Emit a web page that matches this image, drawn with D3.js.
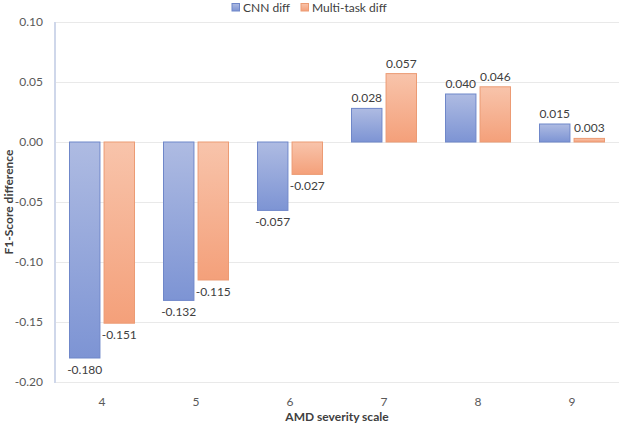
<!DOCTYPE html>
<html><head><meta charset="utf-8">
<script src="https://cdn.jsdelivr.net/npm/d3@7/dist/d3.min.js"></script>
<style>
html,body{margin:0;padding:0;background:#fff;}
text{font-family:Lato,"Open Sans",sans-serif;}
</style></head>
<body><svg id="chart" width="619" height="424"></svg>
<script>
const categories = ["4","5","6","7","8","9"];
const seriesNames = ["CNN diff","Multi-task diff"];
const cnnDiff = [-0.180,-0.132,-0.057,0.028,0.040,0.015];
const multiDiff = [-0.151,-0.115,-0.027,0.057,0.046,0.003];
const yTicks = [0.10,0.05,0.00,-0.05,-0.10,-0.15,-0.20];

const svg = d3.select("#chart");
const W = 619, H = 424;
const m = {left:55, right:0, top:22, bottom:42};
const x0 = d3.scaleBand().domain(categories).range([m.left, W-m.right]).paddingInner(0).paddingOuter(0);
const x1 = d3.scaleBand().domain(seriesNames).range([14, 94-14]).paddingInner(0.09);
const y = d3.scaleLinear().domain([-0.20,0.10]).range([H-m.bottom, m.top]);
const fmt = p => (v => d3.format(p)(v).replace("\u2212","-"));
const FS = 12;

const defs = svg.append("defs");
const grads = [
  {id:"gBlue", top:"#aebbe2", bot:"#7d94d4"},
  {id:"gOrange", top:"#f8c4ab", bot:"#f4a07a"}
];
grads.forEach(g=>{
  const lg = defs.append("linearGradient").attr("id",g.id).attr("x1",0).attr("y1",0).attr("x2",0).attr("y2",1);
  lg.append("stop").attr("offset","0%").attr("stop-color",g.top);
  lg.append("stop").attr("offset","100%").attr("stop-color",g.bot);
});
const fills = ["url(#gBlue)","url(#gOrange)"];
const strokes = ["#6f87c9","#ec9b74"];

// gridlines
svg.append("g").selectAll("line").data(yTicks).join("line")
  .attr("x1",m.left).attr("x2",W-m.right)
  .attr("y1",d=>Math.round(y(d))+0.5).attr("y2",d=>Math.round(y(d))+0.5)
  .attr("stroke","#e9e9e9").attr("stroke-width",1);

// y axis line
svg.append("line").attr("x1",m.left).attr("x2",m.left)
  .attr("y1",y(0.10)).attr("y2",y(-0.20)+1)
  .attr("stroke","#cfd7ea").attr("stroke-width",2);

// y axis labels
const yAxis = d3.axisLeft(y).tickValues(yTicks).tickFormat(fmt(".2f")).tickSize(0).tickPadding(12);
const ya = svg.append("g").attr("transform",`translate(${m.left},0)`).call(yAxis);
ya.select(".domain").remove();
ya.selectAll("text").attr("font-size",FS).attr("fill","#595959").style("font-family","Lato,sans-serif");

// x axis labels
const xAxis = d3.axisBottom(x0).tickSize(0).tickPadding(15);
const xa = svg.append("g").attr("transform",`translate(0,${y(-0.20)})`).call(xAxis);
xa.select(".domain").remove();
xa.selectAll("text").attr("font-size",FS).attr("fill","#595959").style("font-family","Lato,sans-serif");

// bars
const rows = categories.map((c,i)=>({cat:c, vals:[cnnDiff[i], multiDiff[i]]}));
const groups = svg.append("g").selectAll("g").data(rows).join("g")
  .attr("transform",d=>`translate(${x0(d.cat)},0)`);
groups.selectAll("rect").data(d=>d.vals.map((v,k)=>({v,k}))).join("rect")
  .attr("x",d=>x1(seriesNames[d.k])+0.5)
  .attr("width",x1.bandwidth()-1)
  .attr("y",d=>Math.min(y(d.v),y(0)))
  .attr("height",d=>Math.abs(y(d.v)-y(0)))
  .attr("fill",d=>fills[d.k]).attr("stroke",d=>strokes[d.k]).attr("stroke-width",1);
groups.selectAll("text.val").data(d=>d.vals.map((v,k)=>({v,k}))).join("text")
  .attr("class","val")
  .attr("x",d=>x1(seriesNames[d.k])+x1.bandwidth()/2)
  .attr("y",d=>d.v>=0 ? y(d.v)-6 : y(d.v)+16)
  .attr("text-anchor","middle").attr("font-size",FS).attr("fill","#404040")
  .text(d=>fmt(".3f")(d.v));

// axis titles
svg.append("text").attr("x",(m.left+W-m.right)/2).attr("y",421)
  .attr("text-anchor","middle").attr("font-size",FS).attr("font-weight","bold").attr("fill","#404040")
  .text("AMD severity scale");
svg.append("text").attr("transform",`translate(13,${(y(0.10)+y(-0.20))/2}) rotate(-90)`)
  .attr("text-anchor","middle").attr("font-size",FS).attr("font-weight","bold").attr("fill","#404040")
  .text("F1-Score difference");

// legend
const legendX = [232, 301];
const lg = svg.append("g");
seriesNames.forEach((s,k)=>{
  lg.append("rect").attr("x",legendX[k]).attr("y",3.5).attr("width",7.5).attr("height",7.5)
    .attr("fill",fills[k]).attr("stroke",strokes[k]).attr("stroke-width",1);
  lg.append("text").attr("x",legendX[k]+11).attr("y",12).attr("font-size",FS).attr("fill","#404040").text(s);
});
</script></body></html>
